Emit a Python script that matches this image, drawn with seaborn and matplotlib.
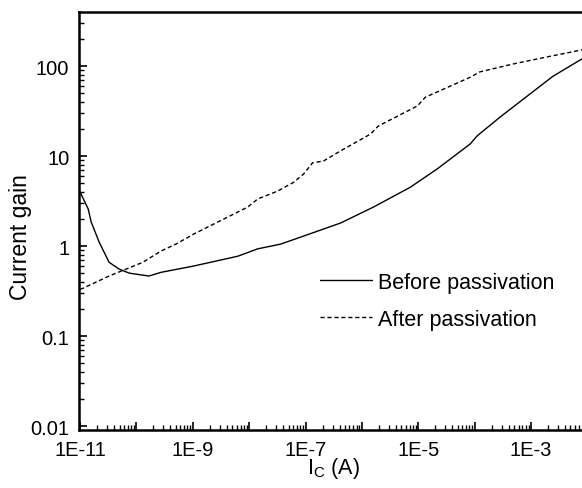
import numpy as np
import pandas as pd
import matplotlib
matplotlib.use("Agg")
import matplotlib.pyplot as plt
from matplotlib.ticker import FixedLocator, FuncFormatter, NullFormatter
import seaborn as sns

# Collector current (A) and current gain, before passivation
ic_before = [1.0e-11, 1.08e-11, 1.39e-11, 1.57e-11, 2.17e-11, 3.26e-11, 4.9e-11,
             7.4e-11, 1.66e-10, 2.72e-10, 1.04e-9, 6.25e-9, 1.41e-8, 3.61e-8,
             9.2e-8, 4.16e-7, 1.6e-6, 7.2e-6, 2.17e-5, 8.3e-5, 1.1e-4, 2.8e-4,
             9.6e-4, 2.45e-3, 8.0e-3]
gain_before = [4.0, 3.59, 2.58, 1.85, 1.11, 0.66, 0.555,
               0.50, 0.464, 0.51, 0.60, 0.77, 0.93, 1.05,
               1.29, 1.8, 2.71, 4.5, 7.2, 13.6, 16.7, 27,
               49, 77, 120]

# Collector current (A) and current gain, after passivation
ic_after = [1.0e-11, 1.13e-11, 3.26e-11, 1.30e-10, 2.72e-10, 5.0e-10, 1.04e-9,
            4.16e-9, 9.4e-9, 1.41e-8, 3.2e-8, 6.1e-8, 9.2e-8, 1.33e-7, 2.08e-7,
            4.16e-7, 1.41e-6, 1.94e-6, 9.6e-6, 1.33e-5, 8.3e-5, 1.23e-4, 4.7e-4,
            1.9e-3, 8.0e-3]
gain_after = [0.33, 0.34, 0.464, 0.66, 0.88, 1.05, 1.36,
              2.1, 2.71, 3.33, 4.08, 5.1, 6.3, 8.4, 8.8,
              11.4, 17.5, 21.5, 36, 45, 75, 86, 105,
              126, 151]

series_names = ["Before passivation", "After passivation"]
x_decades = list(range(-11, -2))
y_tick_values = [0.01, 0.1, 1, 10, 100]
y_tick_labels = ["0.01", "0.1", "1", "10", "100"]

df_before = pd.DataFrame({"ic": ic_before, "gain": gain_before})
df_after = pd.DataFrame({"ic": ic_after, "gain": gain_after})

sns.set_theme(style="ticks")
plt.rcParams["font.family"] = ["Liberation Sans", "DejaVu Sans"]
plt.rcParams["mathtext.fontset"] = "custom"
plt.rcParams["mathtext.rm"] = "Liberation Sans"
plt.rcParams["mathtext.it"] = "Liberation Sans"
plt.rcParams["text.color"] = "black"
plt.rcParams["axes.labelcolor"] = "black"
plt.rcParams["xtick.color"] = "black"
plt.rcParams["ytick.color"] = "black"

fig = plt.figure(figsize=(5.82, 4.89), dpi=100)
ax = fig.add_axes([79 / 582, 58 / 489, 503 / 582, 418 / 489])

sns.lineplot(data=df_before, x="ic", y="gain", ax=ax, color="black",
             linewidth=1.0, label=series_names[0], sort=False)
sns.lineplot(data=df_after, x="ic", y="gain", ax=ax, color="black",
             linewidth=1.0, linestyle=(0, (3, 2)), label=series_names[1], sort=False)

ax.set_xscale("log")
ax.set_yscale("log")
ax.set_xlim(10 ** -11.02, 10 ** -2.097)
ax.set_ylim(10 ** -2.044, 10 ** 2.6)

major_x = [10.0 ** e for e in x_decades]
minor_x = [m * 10.0 ** e for e in x_decades for m in range(2, 10)]
ax.xaxis.set_major_locator(FixedLocator(major_x))
ax.xaxis.set_minor_locator(FixedLocator(minor_x))


def x_fmt(v, pos):
    e = int(round(np.log10(v)))
    return f"1E{e}" if e % 2 != 0 else ""


ax.xaxis.set_major_formatter(FuncFormatter(x_fmt))
ax.xaxis.set_minor_formatter(NullFormatter())

minor_y = [m * 10.0 ** e for e in range(-2, 3) for m in range(2, 10)]
ax.yaxis.set_major_locator(FixedLocator(y_tick_values))
ax.yaxis.set_major_formatter(FuncFormatter(lambda v, pos: y_tick_labels[pos]))
ax.yaxis.set_minor_locator(FixedLocator(minor_y))
ax.yaxis.set_minor_formatter(NullFormatter())

ax.tick_params(axis="both", which="major", direction="in", length=6, width=1.2,
               labelsize=14.5, colors="black", pad=7)
ax.tick_params(axis="both", which="minor", direction="in", length=3.5, width=1.0)

for side in ["left", "bottom", "top"]:
    ax.spines[side].set_linewidth(1.8)
    ax.spines[side].set_color("black")
ax.spines["right"].set_visible(False)

ax.set_xlabel("I$_\\mathregular{C}$ (A)", fontsize=15.5, color="black")
ax.set_ylabel("Current gain", fontsize=16.5, color="black")
ax.xaxis.set_label_coords(0.505, -0.06)
ax.yaxis.set_label_coords(-0.093, 0.465)

leg = ax.legend(loc="upper left", bbox_to_anchor=((320 - 79) / 503, (431 - 273) / 418),
                frameon=False, fontsize=15.5, handlelength=2.4, handletextpad=0.3,
                labelspacing=0.74, borderpad=0, borderaxespad=0)
for t in leg.get_texts():
    t.set_color("black")

fig.savefig("out.png", dpi=100)
